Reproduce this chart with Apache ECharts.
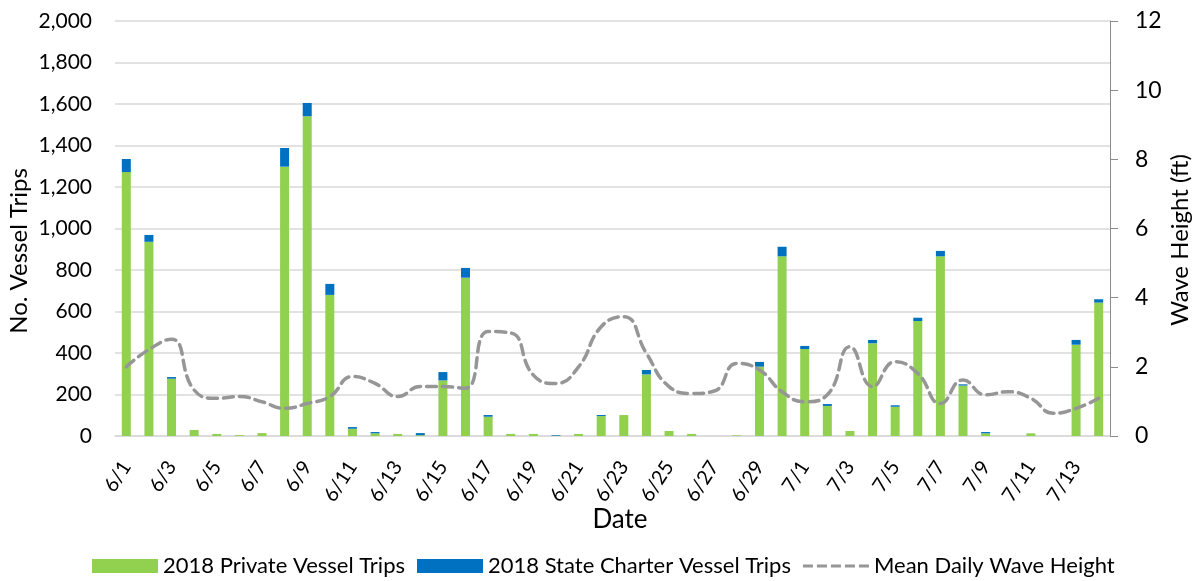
<!DOCTYPE html>
<html><head><meta charset="utf-8">
<script src="https://cdn.jsdelivr.net/npm/echarts@6/dist/echarts.min.js"></script>
<style>html,body{margin:0;padding:0;background:#fff}#c{width:1199px;height:581px}</style>
</head><body><div id="c"></div>
<script>
var categories = ['6/1','6/2','6/3','6/4','6/5','6/6','6/7','6/8','6/9','6/10','6/11','6/12','6/13','6/14','6/15','6/16','6/17','6/18','6/19','6/20','6/21','6/22','6/23','6/24','6/25','6/26','6/27','6/28','6/29','6/30','7/1','7/2','7/3','7/4','7/5','7/6','7/7','7/8','7/9','7/10','7/11','7/12','7/13','7/14'];
var privateTrips = [1272,936,276,29,10,4,14,1298,1541,680,35,13,10,4,268,763,93,10,10,2,10,96,101,297,24,10,0,3,334,866,419,145,24,447,141,554,866,243,13,0,13,0,440,643];
var charterTrips = [63,33,8,0,0,0,0,90,64,53,8,6,0,10,40,47,8,0,0,3,0,5,0,21,0,0,0,0,23,46,15,9,0,16,7,16,26,6,6,0,0,0,23,16];
var waveHeight = [2.0,2.5,2.8,1.33,1.09,1.14,0.99,0.8,0.94,1.14,1.72,1.52,1.14,1.43,1.43,1.38,3.02,2.98,1.76,1.52,2.0,3.16,3.45,2.39,1.43,1.23,1.3,2.1,1.91,1.28,0.99,1.19,2.58,1.43,2.15,1.81,0.94,1.62,1.19,1.28,1.09,0.66,0.8,1.09];
var seriesNames = ['2018 Private Vessel Trips','2018 State Charter Vessel Trips','Mean Daily Wave Height'];
var axisTitles = ['No. Vessel Trips','Wave Height (ft)','Date'];

var font = 'Lato, "Open Sans", sans-serif';
var dashIcon = 'path://M0,0L66,0L66,0Z M0,14L66,14L66,14Z M0,5.5h10v3h-10z M14,5.5h10v3h-10z M28,5.5h10v3h-10z M42,5.5h10v3h-10z M56,5.5h10v3h-10z';
function titleText(txt, x, y, rot, size) {
  return {type: 'text', x: x, y: y, rotation: rot, silent: true,
    style: {text: txt, fill: '#000', font: size + 'px ' + font,
      align: 'center', verticalAlign: 'middle', textAlign: 'center', textVerticalAlign: 'middle'}};
}
var chart = echarts.init(document.getElementById('c'));
chart.setOption({
  animation: false,
  textStyle: {fontFamily: font, color: '#000'},
  grid: {left: 115, right: 89, top: 21, bottom: 145},
  legend: {
    left: 87, top: 550, itemWidth: 66, itemHeight: 14, itemGap: 12,
    textStyle: {fontFamily: font, fontSize: 22, color: '#000'},
    data: [
      {name: seriesNames[0], icon: 'rect'},
      {name: seriesNames[1], icon: 'rect'},
      {name: seriesNames[2], icon: dashIcon, itemStyle: {color: '#969696'}}
    ]
  },
  graphic: [
    titleText(axisTitles[0], 19, 251, Math.PI / 2, 24),
    titleText(axisTitles[1], 1180, 240, Math.PI / 2, 24),
    titleText(axisTitles[2], 620, 520, 0, 26)
  ],
  xAxis: {
    type: 'category', data: categories,
    axisLine: {lineStyle: {color: '#d9d9d9', width: 1.5}},
    axisTick: {show: false},
    axisLabel: {interval: 1, rotate: 57, fontSize: 20, color: '#000', fontFamily: font, margin: 27}
  },
  yAxis: [{
    type: 'value', min: 0, max: 2000, interval: 200,
    axisLine: {show: false}, axisTick: {show: false},
    splitLine: {lineStyle: {color: '#d9d9d9', width: 1.5}},
    axisLabel: {fontSize: 21, color: '#000', fontFamily: font, margin: 23,
      formatter: function(v){return v.toLocaleString('en-US');}}
  },{
    type: 'value', min: 0, max: 12, interval: 2,
    axisLine: {show: true, lineStyle: {color: '#8c8c8c', width: 1}},
    axisTick: {show: true, length: 8, lineStyle: {color: '#8c8c8c'}},
    splitLine: {show: false},
    axisLabel: {fontSize: 23, color: '#000', fontFamily: font, margin: 25}
  }],
  series: [{
    name: seriesNames[0], type: 'bar', stack: 'trips', data: privateTrips,
    barWidth: 9, itemStyle: {color: '#92d050'}
  },{
    name: seriesNames[1], type: 'bar', stack: 'trips', data: charterTrips,
    barWidth: 9, itemStyle: {color: '#0070c0'}
  },{
    name: seriesNames[2], type: 'line', yAxisIndex: 1, data: waveHeight,
    smooth: 0.5, symbol: 'none',
    lineStyle: {color: '#969696', width: 3.5, type: [10, 6], cap: 'round'},
    itemStyle: {color: '#969696'}
  }]
});
</script></body></html>
